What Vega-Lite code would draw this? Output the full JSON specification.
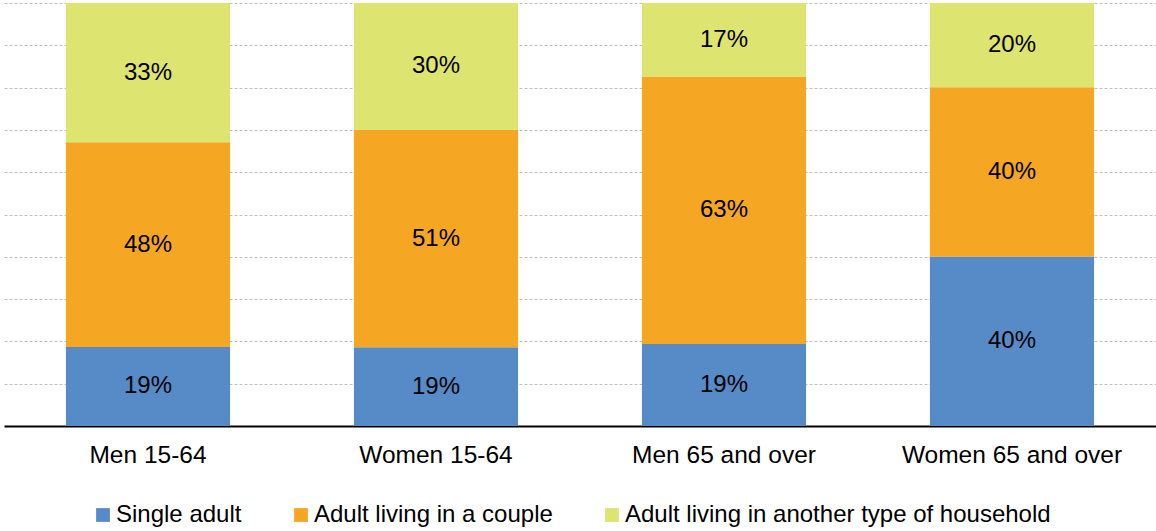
{
  "$schema": "https://vega.github.io/schema/vega-lite/v6.json",
  "width": 1152,
  "height": 423,
  "autosize": "none",
  "padding": {"left": 4, "top": 3, "right": 0, "bottom": 105},
  "background": "white",
  "config": {
    "view": {"stroke": null},
    "font": "Liberation Sans"
  },
  "data": {
    "values": [
      {"group": "Men 15-64", "series": "Single adult", "k": 1, "value": 0.187},
      {"group": "Men 15-64", "series": "Adult living in a couple", "k": 2, "value": 0.484},
      {"group": "Men 15-64", "series": "Adult living in another type of household", "k": 3, "value": 0.329},
      {"group": "Women 15-64", "series": "Single adult", "k": 1, "value": 0.186},
      {"group": "Women 15-64", "series": "Adult living in a couple", "k": 2, "value": 0.514},
      {"group": "Women 15-64", "series": "Adult living in another type of household", "k": 3, "value": 0.300},
      {"group": "Men 65 and over", "series": "Single adult", "k": 1, "value": 0.194},
      {"group": "Men 65 and over", "series": "Adult living in a couple", "k": 2, "value": 0.632},
      {"group": "Men 65 and over", "series": "Adult living in another type of household", "k": 3, "value": 0.174},
      {"group": "Women 65 and over", "series": "Single adult", "k": 1, "value": 0.401},
      {"group": "Women 65 and over", "series": "Adult living in a couple", "k": 2, "value": 0.400},
      {"group": "Women 65 and over", "series": "Adult living in another type of household", "k": 3, "value": 0.199}
    ]
  },
  "transform": [
    {"stack": "value", "groupby": ["group"], "sort": [{"field": "k", "order": "ascending"}], "as": ["v0", "v1"]},
    {"calculate": "(datum.v0 + datum.v1) / 2", "as": "mid"}
  ],
  "encoding": {
    "x": {
      "field": "group",
      "type": "nominal",
      "sort": ["Men 15-64", "Women 15-64", "Men 65 and over", "Women 65 and over"],
      "scale": {"paddingInner": 0.43, "paddingOuter": 0.215},
      "axis": {
        "title": null,
        "labelAngle": 0,
        "labelFontSize": 24.5,
        "labelColor": "#000000",
        "labelPadding": 17,
        "labelLimit": 0,
        "ticks": false,
        "domainColor": "#000000",
        "domainWidth": 2
      }
    }
  },
  "layer": [
    {
      "mark": {"type": "bar"},
      "encoding": {
        "y": {
          "field": "v0",
          "type": "quantitative",
          "scale": {"domain": [0, 1], "nice": false},
          "axis": {
            "title": null,
            "labels": false,
            "ticks": false,
            "domain": false,
            "values": [0.1, 0.2, 0.3, 0.4, 0.5, 0.6, 0.7, 0.8, 0.9, 1.0],
            "gridColor": "#BFBFBF",
            "gridDash": [3, 2],
            "gridWidth": 1
          }
        },
        "y2": {"field": "v1"},
        "color": {
          "field": "series",
          "type": "nominal",
          "scale": {
            "domain": ["Single adult", "Adult living in a couple", "Adult living in another type of household"],
            "range": ["#568BC8", "#F5A623", "#DDE46F"]
          },
          "legend": {
            "title": null,
            "orient": "none",
            "direction": "horizontal",
            "legendX": 87,
            "legendY": 500,
            "symbolType": "square",
            "symbolSize": 190,
            "symbolStrokeWidth": 0,
            "labelFontSize": 24,
            "labelColor": "#000000",
            "labelOffset": 1,
            "labelLimit": 0,
            "columnPadding": 47,
            "padding": 0
          }
        }
      }
    },
    {
      "mark": {"type": "text", "fontSize": 24, "color": "#000000", "baseline": "middle"},
      "encoding": {
        "y": {"field": "mid", "type": "quantitative"},
        "text": {"field": "value", "type": "quantitative", "format": ".0%"}
      }
    }
  ]
}
